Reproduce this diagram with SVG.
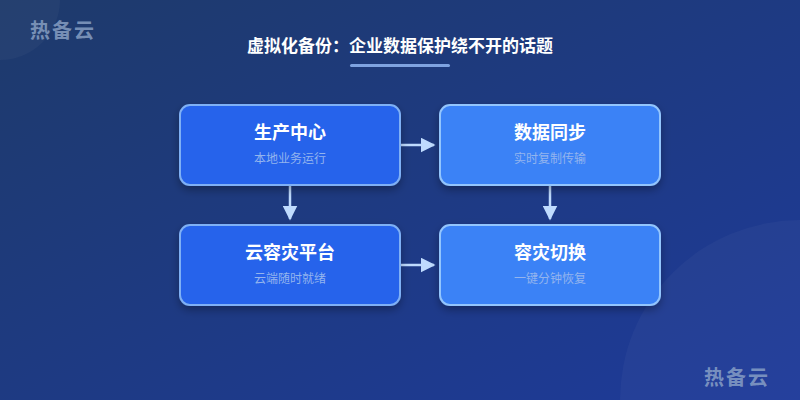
<svg xmlns="http://www.w3.org/2000/svg" width="800" height="400" viewBox="0 0 800 400">
<defs>
<linearGradient id="bg" x1="0" y1="0" x2="1" y2="1"><stop offset="0" stop-color="#1e3a6b"/><stop offset="1" stop-color="#1e3a9a"/></linearGradient>
<marker id="ah" viewBox="0 0 10 10" refX="9" refY="5" markerWidth="15" markerHeight="15" orient="auto" markerUnits="userSpaceOnUse"><path d="M0,0 L10,5 L0,10 z" fill="#bfdbfe"/></marker>
<filter id="sh" x="-20%" y="-20%" width="140%" height="150%"><feDropShadow dx="0" dy="4" stdDeviation="4" flood-color="#000" flood-opacity="0.3"/></filter>
<style>
.t{font-family:"Noto Sans CJK SC","Noto Sans",sans-serif;text-anchor:middle}
.h{font-size:18px;font-weight:bold;fill:#fff}
.s{font-size:12px;fill:#93b4ee}
.a{fill:#2563eb;stroke:#7fb0f5;stroke-width:2;filter:url(#sh)}
.b{fill:#3b82f6;stroke:#93c5fd;stroke-width:2;filter:url(#sh)}
.c{stroke:#bfdbfe;stroke-width:2.5;fill:none}
.w{font-size:20px;font-weight:bold;fill:#8fa6c9;fill-opacity:0.8;letter-spacing:2px}
</style>
</defs>
<rect width="800" height="400" fill="url(#bg)"/>
<circle cx="0" cy="0" r="60" fill="#fff" fill-opacity="0.03"/>
<circle cx="800" cy="400" r="180" fill="#fff" fill-opacity="0.03"/>
<text class="t w" x="63" y="38">热备云</text>
<text class="t w" x="737" y="385">热备云</text>
<text class="t" x="400" y="52" font-size="17" font-weight="bold" fill="#fff">虚拟化备份：企业数据保护绕不开的话题</text>
<rect x="350" y="64" width="100" height="3" rx="1.5" fill="#7fa3e0"/>
<g id="connectors">
<path class="c" d="M401,145 H434" marker-end="url(#ah)"/>
<path class="c" d="M290,186 V219" marker-end="url(#ah)"/>
<path class="c" d="M550,186 V219" marker-end="url(#ah)"/>
<path class="c" d="M401,265 H434" marker-end="url(#ah)"/>
</g>
<g id="n1"><rect class="a" x="180" y="105" width="220" height="80" rx="10"/><text class="t h" x="290" y="139">生产中心</text><text class="t s" x="290" y="163">本地业务运行</text></g>
<g id="n2"><rect class="b" x="440" y="105" width="220" height="80" rx="10"/><text class="t h" x="550" y="139">数据同步</text><text class="t s" x="550" y="163">实时复制传输</text></g>
<g id="n3"><rect class="a" x="180" y="225" width="220" height="80" rx="10"/><text class="t h" x="290" y="259">云容灾平台</text><text class="t s" x="290" y="283">云端随时就绪</text></g>
<g id="n4"><rect class="b" x="440" y="225" width="220" height="80" rx="10"/><text class="t h" x="550" y="259">容灾切换</text><text class="t s" x="550" y="283">一键分钟恢复</text></g>
</svg>
